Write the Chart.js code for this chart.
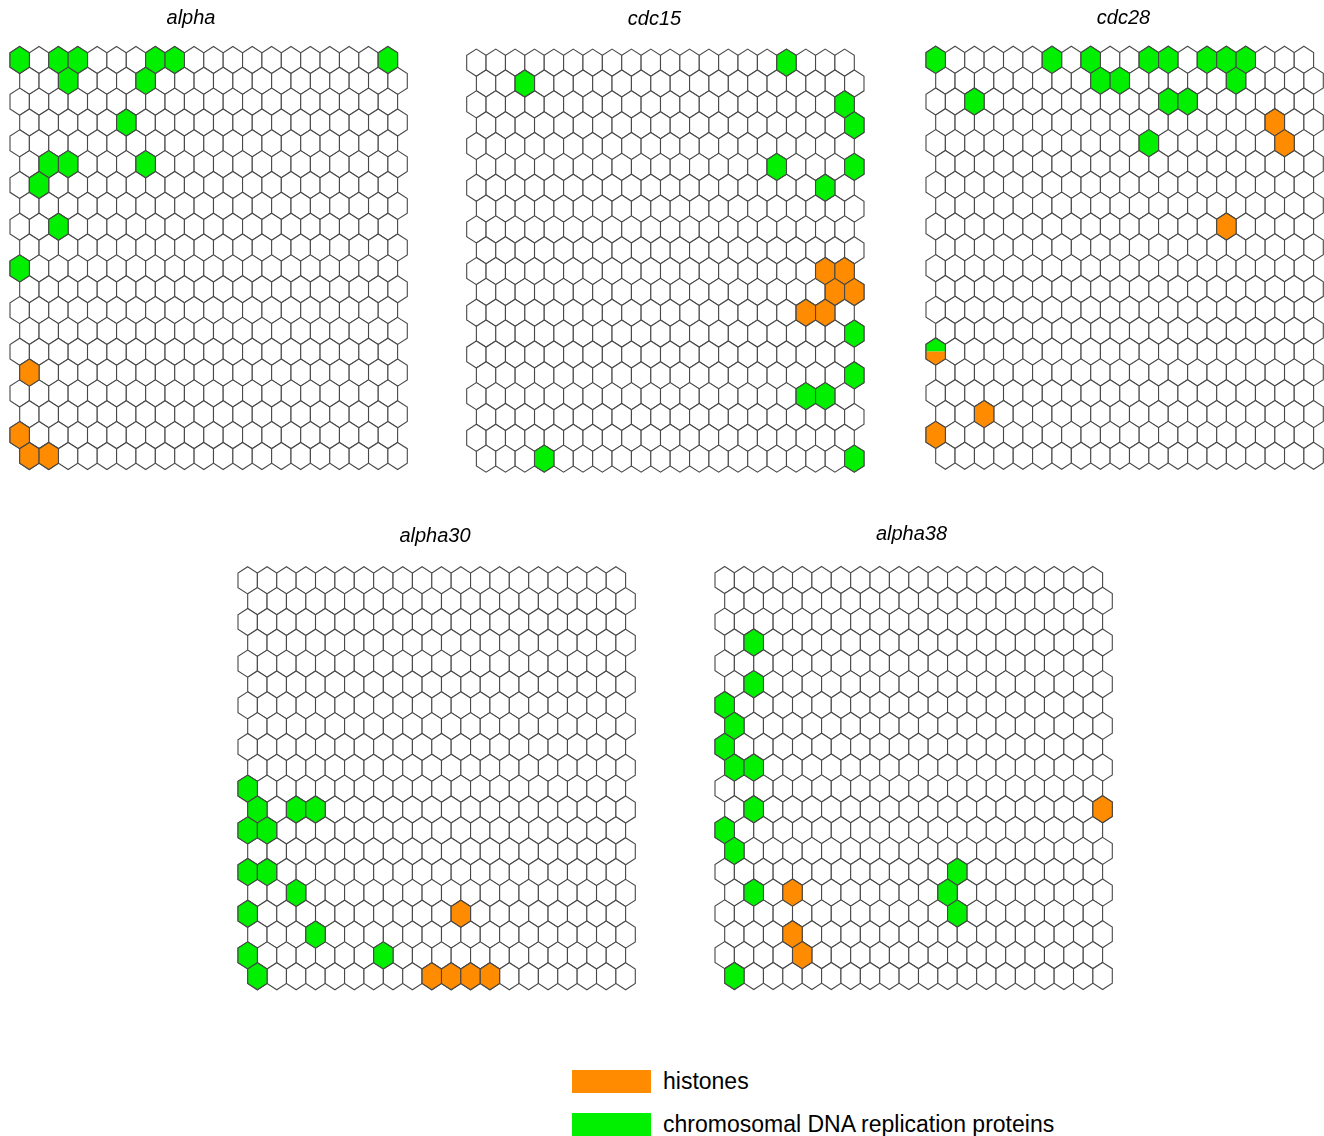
<!DOCTYPE html>
<html>
<head>
<meta charset="utf-8">
<title>SOM component planes: histones and chromosomal DNA replication proteins</title>
<script src="https://cdn.jsdelivr.net/npm/chart.js@4.4.1/dist/chart.umd.min.js"></script>
<style>
  html, body { margin: 0; padding: 0; background: #ffffff; overflow: hidden; }
  body { position: relative; width: 1324px; height: 1136px; font-family: "Liberation Sans", Arial, sans-serif; }
  canvas.som { position: absolute; }
  .legend-row { position: absolute; left: 572px; height: 23px; display: flex; align-items: center; }
  .legend-swatch { width: 79px; height: 23px; margin-right: 12px; }
  .legend-text { font-size: 23px; color: #000; white-space: nowrap; }
</style>
</head>
<body>
<canvas class="som" id="som0"></canvas>
<canvas class="som" id="som1"></canvas>
<canvas class="som" id="som2"></canvas>
<canvas class="som" id="som3"></canvas>
<canvas class="som" id="som4"></canvas>

<div class="legend-row" id="leg0" style="top:1070px"><div class="legend-swatch"></div><span class="legend-text"></span></div>
<div class="legend-row" id="leg1" style="top:1113px"><div class="legend-swatch"></div><span class="legend-text"></span></div>

<script>
// Map size: 20 x 20 hexagonal units, odd rows (counted from the top) shifted half a unit right
const gridCols = 20;
const gridRows = 20;

const panelTitles = ['alpha', 'cdc15', 'cdc28', 'alpha30', 'alpha38'];
const legendLabels = ['histones', 'chromosomal DNA replication proteins'];

// Units holding each protein class, as [row, column], row 0 at the top
const alphaHistones = [[15, 0], [18, 0], [19, 0], [19, 1]];
const alphaReplication = [[0, 0], [0, 2], [0, 3], [0, 7], [0, 8], [0, 19], [1, 2], [1, 6], [3, 5],
  [5, 1], [5, 2], [5, 6], [6, 1], [8, 2], [10, 0]];

const cdc15Histones = [[10, 18], [10, 19], [11, 18], [11, 19], [12, 17], [12, 18]];
const cdc15Replication = [[0, 16], [1, 2], [2, 19], [3, 19], [5, 15], [5, 19], [6, 18], [13, 19],
  [15, 19], [16, 17], [16, 18], [19, 3], [19, 19]];

const cdc28Histones = [[3, 17], [4, 18], [8, 15], [17, 2], [18, 0]];
const cdc28Replication = [[0, 0], [0, 6], [0, 8], [0, 11], [0, 12], [0, 14], [0, 15], [0, 16],
  [1, 8], [1, 9], [1, 15], [2, 2], [2, 12], [2, 13], [4, 11]];
const cdc28Both = [[14, 0]];

const alpha30Histones = [[16, 11], [19, 9], [19, 10], [19, 11], [19, 12]];
const alpha30Replication = [[10, 0], [11, 0], [11, 2], [11, 3], [12, 0], [12, 1], [14, 0], [14, 1],
  [15, 2], [16, 0], [17, 3], [18, 0], [18, 7], [19, 0]];

const alpha38Histones = [[11, 19], [15, 3], [17, 3], [18, 4]];
const alpha38Replication = [[3, 1], [5, 1], [6, 0], [7, 0], [8, 0], [9, 0], [9, 1], [11, 1],
  [12, 0], [13, 0], [14, 12], [15, 1], [15, 11], [16, 12], [19, 0]];

const HISTONE_COLOR = '#ff8c00';
const REPLICATION_COLOR = '#00f000';
const EMPTY_COLOR = '#ffffff';
const EDGE_COLOR = '#484848';
const FONT_FAMILY = '"Liberation Sans", Arial, sans-serif';

// Pixel size of one map unit
const X_STEP = 19.38;
const Y_STEP = 20.84;

// Page placement of each map
const layouts = [
  { gridLeft: 10,    row0: 60.0,  canvasLeft: -28, canvasTop: 0,   width: 438 },
  { gridLeft: 466.7, row0: 62.7,  canvasLeft: 443, canvasTop: 1,   width: 423 },
  { gridLeft: 926,   row0: 59.8,  canvasLeft: 921, canvasTop: 0,   width: 405 },
  { gridLeft: 238,   row0: 580.3, canvasLeft: 233, canvasTop: 518, width: 404 },
  { gridLeft: 715,   row0: 580.0, canvasLeft: 708, canvasTop: 516, width: 407 }
];
const CANVAS_HEIGHT = 480;
const TITLE_LINE = 20, TITLE_PAD_TOP = 8, TITLE_PAD_BOTTOM = 10;

const panelData = [
  { histones: alphaHistones,   replication: alphaReplication,   both: [] },
  { histones: cdc15Histones,   replication: cdc15Replication,   both: [] },
  { histones: cdc28Histones,   replication: cdc28Replication,   both: cdc28Both },
  { histones: alpha30Histones, replication: alpha30Replication, both: [] },
  { histones: alpha38Histones, replication: alpha38Replication, both: [] }
];

const allUnits = [];
for (let r = 0; r < gridRows; r++) {
  for (let c = 0; c < gridCols; c++) allUnits.push([r, c]);
}

function unitPoints(cells) {
  return cells.map(([r, c]) => ({ x: c + (r % 2) * 0.5, y: r }));
}

// Draws every point of every dataset as a hexagonal unit; a dataset with two
// fill colours splits the unit into an upper and a lower half.
const hexUnits = {
  id: 'hexUnits',
  afterDatasetsDraw(chart) {
    const ctx = chart.ctx;
    const xs = chart.scales.x, ys = chart.scales.y;
    const uw = Math.abs(xs.getPixelForValue(1) - xs.getPixelForValue(0));
    const uh = Math.abs(ys.getPixelForValue(1) - ys.getPixelForValue(0));
    const halfW = uw / 2;
    const halfSide = uh * 0.35;
    const halfH = uh * 0.65;
    ctx.save();
    ctx.lineWidth = 1.1;
    ctx.strokeStyle = EDGE_COLOR;
    ctx.lineJoin = 'miter';
    chart.data.datasets.forEach((ds, i) => {
      const meta = chart.getDatasetMeta(i);
      meta.data.forEach(el => {
        const x = el.x, y = el.y;
        ctx.beginPath();
        ctx.moveTo(x, y - halfH);
        ctx.lineTo(x + halfW, y - halfSide);
        ctx.lineTo(x + halfW, y + halfSide);
        ctx.lineTo(x, y + halfH);
        ctx.lineTo(x - halfW, y + halfSide);
        ctx.lineTo(x - halfW, y - halfSide);
        ctx.closePath();
        if (ds.fills.length === 1) {
          ctx.fillStyle = ds.fills[0];
          ctx.fill();
        } else {
          ctx.save();
          ctx.clip();
          ctx.fillStyle = ds.fills[0];
          ctx.fillRect(x - halfW - 1, y - halfH - 1, uw + 2, halfH + 1);
          ctx.fillStyle = ds.fills[1];
          ctx.fillRect(x - halfW - 1, y, uw + 2, halfH + 1);
          ctx.restore();
        }
        ctx.stroke();
      });
    });
    ctx.restore();
  }
};

panelData.forEach((p, i) => {
  const L = layouts[i];
  const canvas = document.getElementById('som' + i);
  canvas.width = L.width;
  canvas.height = CANVAS_HEIGHT;
  canvas.style.left = L.canvasLeft + 'px';
  canvas.style.top = L.canvasTop + 'px';

  const areaTop = TITLE_PAD_TOP + TITLE_LINE + TITLE_PAD_BOTTOM;
  const areaHeight = CANVAS_HEIGHT - areaTop;
  const xMin = -0.5 - (L.gridLeft - L.canvasLeft) / X_STEP;
  const xMax = xMin + L.width / X_STEP;
  const yMin = -(L.row0 - (L.canvasTop + areaTop)) / Y_STEP;
  const yMax = yMin + areaHeight / Y_STEP;

  new Chart(canvas, {
    type: 'scatter',
    data: {
      datasets: [
        { label: 'units', data: unitPoints(allUnits), fills: [EMPTY_COLOR] },
        { label: legendLabels[0], data: unitPoints(p.histones), fills: [HISTONE_COLOR] },
        { label: legendLabels[1], data: unitPoints(p.replication), fills: [REPLICATION_COLOR] },
        { label: 'both', data: unitPoints(p.both), fills: [REPLICATION_COLOR, HISTONE_COLOR] }
      ]
    },
    options: {
      responsive: false,
      animation: false,
      events: [],
      devicePixelRatio: 1,
      layout: { padding: 0, autoPadding: false },
      elements: { point: { radius: 0, hoverRadius: 0, hitRadius: 0 } },
      scales: {
        x: { type: 'linear', display: false, bounds: 'data', min: xMin, max: xMax },
        y: { type: 'linear', display: false, bounds: 'data', reverse: true, min: yMin, max: yMax }
      },
      plugins: {
        legend: { display: false },
        tooltip: { enabled: false },
        title: {
          display: true,
          text: panelTitles[i],
          color: '#000000',
          font: { family: FONT_FAMILY, size: 20, style: 'italic', weight: 'normal', lineHeight: TITLE_LINE + 'px' },
          padding: { top: TITLE_PAD_TOP, bottom: TITLE_PAD_BOTTOM }
        }
      }
    },
    plugins: [hexUnits]
  });
});

// Legend
const legendColors = [HISTONE_COLOR, REPLICATION_COLOR];
legendLabels.forEach((label, i) => {
  const row = document.getElementById('leg' + i);
  row.querySelector('.legend-swatch').style.background = legendColors[i];
  row.querySelector('.legend-text').textContent = label;
});
</script>
</body>
</html>
